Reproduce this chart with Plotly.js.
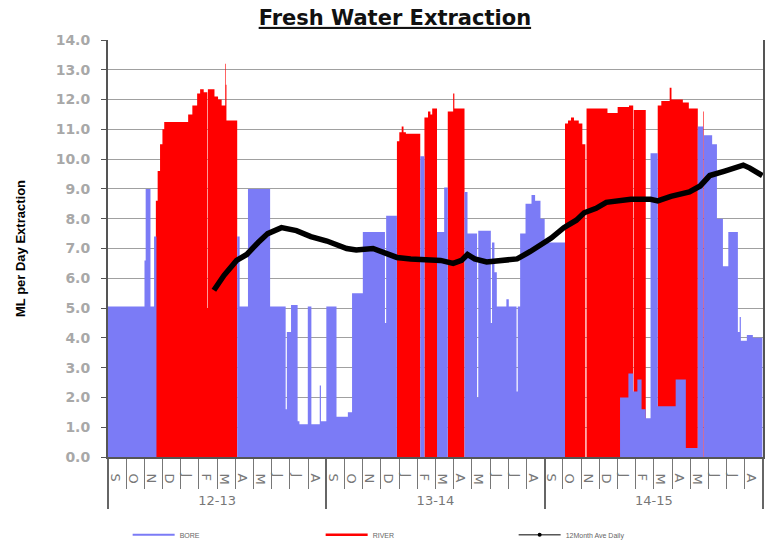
<!DOCTYPE html>
<html><head><meta charset="utf-8">
<script src="https://cdn.plot.ly/plotly-3.0.1.min.js"></script>
<style>html,body{margin:0;padding:0;background:#fff}#chart{width:769px;height:548px}</style>
</head><body><div id="chart"></div>
<script>
// ---- data ----
const yearLabels = ['12-13', '13-14', '14-15'];
const monthLabels = ['S', 'O', 'N', 'D', 'J', 'F', 'M', 'A', 'M', 'J', 'J', 'A'];
const seriesNames = ['BORE', 'RIVER', '12Month Ave Daily'];

// BORE (blue) daily extraction, step change points
const boreDates = ['2012-09-01','2012-11-01','2012-11-03','2012-11-11','2012-11-17','2012-11-21',
  '2013-04-05','2013-04-09','2013-04-23','2013-05-30','2013-06-25','2013-06-27','2013-07-04','2013-07-15','2013-07-18',
  '2013-08-01','2013-08-07','2013-08-21','2013-08-23','2013-09-01','2013-09-18','2013-10-07','2013-10-14','2013-11-01',
  '2013-12-08','2013-12-10','2013-12-28','2014-02-05','2014-02-12','2014-03-05','2014-03-17','2014-03-23','2014-04-20',
  '2014-04-25','2014-05-11','2014-05-13','2014-06-03','2014-06-05','2014-06-09','2014-06-13','2014-06-29','2014-07-03',
  '2014-07-16','2014-07-18','2014-07-22','2014-07-31','2014-08-10','2014-08-16','2014-08-25','2014-09-01','2014-10-05',
  '2015-01-05','2015-01-19','2015-01-27','2015-02-03','2015-02-10','2015-02-17','2015-02-25','2015-03-09','2015-04-08',
  '2015-04-25','2015-05-15','2015-05-24','2015-05-25','2015-06-08','2015-06-16','2015-06-26','2015-07-05','2015-07-21',
  '2015-07-24','2015-07-26','2015-08-05','2015-08-15','2015-08-31'];
const boreValues = [5.05,6.6,9.0,5.05,7.4,0,
  7.4,5.05,9.0,5.05,1.6,4.2,5.1,1.2,1.1,
  5.05,1.1,2.4,1.2,5.05,1.35,1.5,5.5,7.55,
  4.5,8.1,0,10.1,0,7.55,9.05,0,8.9,
  7.5,2.0,7.6,4.5,7.2,6.2,5.05,5.3,5.05,
  2.2,5.05,7.5,8.5,8.8,8.6,8.0,7.2,0,
  2.0,2.8,2.2,2.6,1.6,1.3,10.2,1.7,2.6,
  0.3,11.1,0,10.8,10.5,8.0,6.4,7.55,4.2,
  4.7,3.9,4.1,4.0,4.0];

// RIVER (red) daily extraction, step change points
const riverDates = ['2012-09-01','2012-11-20','2012-11-23','2012-11-27','2012-12-01','2012-12-04','2013-01-13','2013-01-20',
  '2013-01-28','2013-02-02','2013-02-08','2013-02-14','2013-02-15','2013-02-26','2013-03-04','2013-03-10','2013-03-16',
  '2013-03-17','2013-03-18','2013-04-05','2013-12-28','2014-01-01','2014-01-05','2014-01-08','2014-01-12','2014-02-05',
  '2014-02-12','2014-02-18','2014-02-22','2014-02-25','2014-03-05','2014-03-23','2014-04-01','2014-04-03','2014-04-20',
  '2014-10-05','2014-10-10','2014-10-15','2014-10-20','2014-10-28','2014-11-03','2014-11-08','2014-11-10','2014-12-15',
  '2015-01-01','2015-01-20','2015-01-27','2015-01-28','2015-02-17','2015-03-09','2015-03-15','2015-03-29','2015-04-01',
  '2015-04-20','2015-04-30','2015-05-15','2015-05-24','2015-05-25','2015-08-31'];
const riverValues = [0,8.6,9.6,10.5,11.0,11.25,11.5,11.8,
  12.2,12.35,12.25,5.0,12.35,12.1,12.0,11.8,13.2,
  12.5,11.3,0,10.6,10.9,11.1,10.9,10.85,0,
  11.4,11.6,11.5,11.7,0,11.6,12.2,11.7,0,
  11.2,11.3,11.4,11.3,11.2,10.5,0,11.7,11.55,
  11.75,11.8,0,11.65,0,11.8,11.95,12.4,12.0,
  11.9,11.7,0,11.6,0,0];

// 12 month average daily extraction
const avgDates = ['2013-02-25','2013-03-14','2013-04-04','2013-04-21','2013-05-10','2013-05-26','2013-06-18','2013-07-02',
  '2013-07-13','2013-08-06','2013-09-02','2013-10-05','2013-10-21','2013-11-18','2013-12-08','2013-12-28','2014-01-20',
  '2014-02-19','2014-03-11','2014-04-01','2014-04-15','2014-04-25','2014-05-07','2014-05-27','2014-06-18','2014-07-17',
  '2014-08-08','2014-08-20','2014-09-12','2014-10-03','2014-10-24','2014-11-06','2014-11-26','2014-12-13','2015-01-01',
  '2015-01-23','2015-02-25','2015-03-09','2015-03-31','2015-05-01','2015-05-19','2015-06-04','2015-06-29','2015-07-19',
  '2015-07-30','2015-08-10','2015-08-31'];
const avgValues = [5.6,6.1,6.6,6.8,7.2,7.5,7.7,7.65,
  7.6,7.4,7.25,7.0,6.95,7.0,6.85,6.7,6.65,
  6.6,6.6,6.5,6.6,6.8,6.65,6.55,6.6,6.65,
  6.9,7.05,7.35,7.7,7.95,8.2,8.35,8.55,8.6,
  8.65,8.65,8.6,8.75,8.9,9.1,9.45,9.6,9.75,
  9.8,9.7,9.45];

// ---- build category axis labels (unique keys for repeated letters) ----
const catYears = [], catMonths = [];
yearLabels.forEach(function (yr) {
  const seen = {};
  monthLabels.forEach(function (m) {
    seen[m] = (seen[m] || 0) + 1;
    catYears.push(yr);
    catMonths.push(m + '\u200b'.repeat(seen[m] - 1));
  });
});

const BLUE = '#7b7bf6', RED = '#ff0000';
const WIDE = 'DejaVu Sans, Verdana, sans-serif';
const traces = [
  {type: 'scatter', x: riverDates, y: riverValues, mode: 'lines', line: {shape: 'hv', width: 0, color: RED},
   fill: 'tozeroy', fillcolor: RED, showlegend: false, hoverinfo: 'skip'},
  {type: 'scatter', x: boreDates, y: boreValues, mode: 'lines', line: {shape: 'hv', width: 0, color: BLUE},
   fill: 'tozeroy', fillcolor: BLUE, showlegend: false, hoverinfo: 'skip'},
  {type: 'scatter', x: avgDates, y: avgValues, mode: 'lines', line: {color: '#000', width: 5.5},
   showlegend: false, hoverinfo: 'skip'},
  {type: 'scatter', x: [catYears, catMonths], y: catYears.map(function () { return null; }),
   xaxis: 'x2', mode: 'markers', showlegend: false, hoverinfo: 'skip'},
  // legend entries
  {type: 'scatter', x: [null], y: [null], mode: 'lines', name: seriesNames[0], line: {color: BLUE, width: 2}},
  {type: 'scatter', x: [null], y: [null], mode: 'lines', name: seriesNames[1], line: {color: RED, width: 2.5}},
  {type: 'scatter', x: [null], y: [null], mode: 'lines+markers', name: seriesNames[2],
   line: {color: '#000', width: 1}, marker: {color: '#000', size: 4}}
];

const layout = {
  width: 769, height: 548,
  margin: {l: 108, r: 6, t: 40, b: 91},
  paper_bgcolor: '#fff', plot_bgcolor: '#fff',
  font: {family: 'Liberation Sans, Arial, sans-serif'},
  title: {text: '<b><u>Fresh Water Extraction</u></b>', font: {size: 21, color: '#111', family: WIDE},
          xref: 'paper', x: 0.438, xanchor: 'center', yref: 'container', y: 0.968, yanchor: 'middle'},
  showlegend: true,
  legend: {orientation: 'h', x: 0.03, xanchor: 'left', yref: 'container', y: 0.024, yanchor: 'middle',
           itemwidth: 42, entrywidth: 136, entrywidthmode: 'pixels', font: {size: 7, color: '#666'}, traceorder: 'normal'},
  xaxis: {type: 'date', range: ['2012-09-01', '2015-09-01'], showticklabels: false, showgrid: false,
          zeroline: false, showline: false, ticks: ''},
  xaxis2: {type: 'multicategory', overlaying: 'x', anchor: 'y', side: 'bottom', range: [-0.5, 35.5],
           showgrid: false, zeroline: false, showline: true, linecolor: '#555', linewidth: 1.5,
           ticks: 'outside', ticklen: 30, tickcolor: '#777', tickson: 'boundaries',
           ticklabelstandoff: 6,
           showdividers: true, dividercolor: '#666', dividerwidth: 2,
           tickfont: {size: 13, color: '#777', family: WIDE}},
  yaxis: {range: [0, 14], dtick: 1, tickformat: '.1f', ticks: 'outside', ticklen: 5, tickcolor: '#555',
          showline: true, linecolor: '#555', linewidth: 2, mirror: true, gridcolor: '#a0a0a0', gridwidth: 1,
          zeroline: false, ticklabelstandoff: 8,
          tickfont: {size: 14, color: '#a8a8a8', weight: 'bold', family: WIDE},
          title: {text: 'ML per Day Extraction', standoff: 27,
                  font: {size: 13, color: '#000', weight: 'bold', family: 'Liberation Sans Narrow, Arial Narrow, Liberation Sans, sans-serif'}}}
};

Plotly.newPlot('chart', traces, layout, {staticPlot: true, displayModeBar: false});
</script>
</body></html>
